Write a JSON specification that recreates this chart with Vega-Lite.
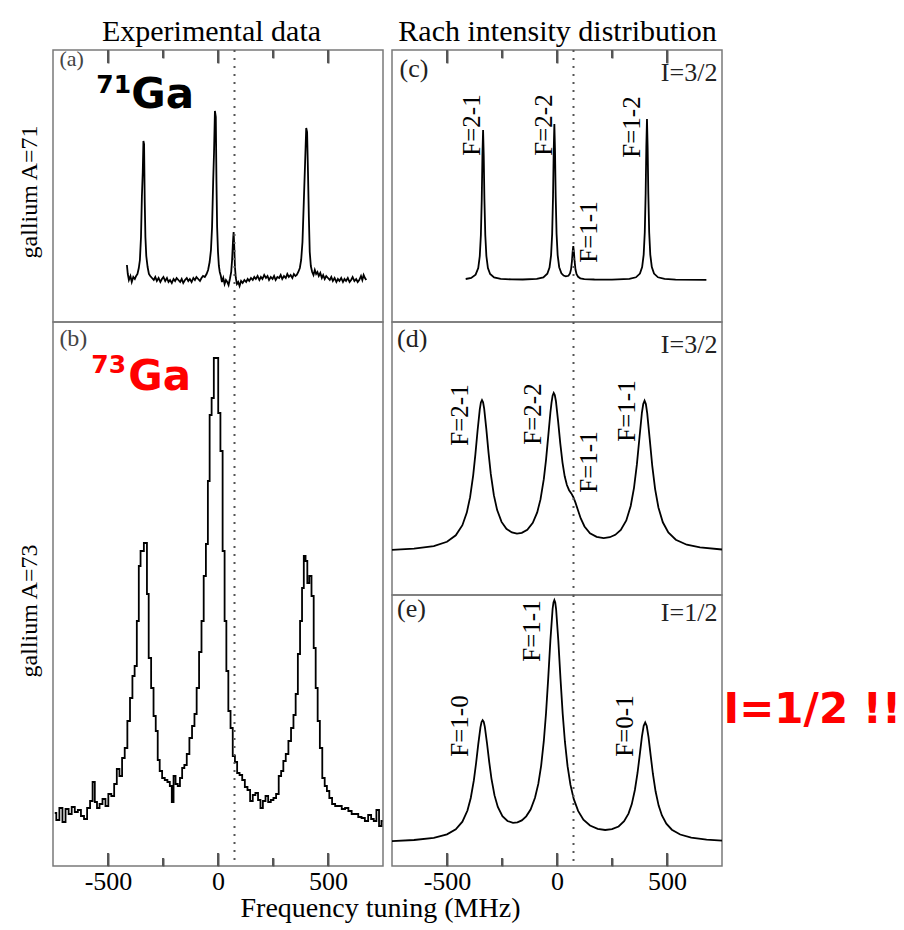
{
  "$schema": "https://vega.github.io/schema/vega-lite/v6.json",
  "background": "white",
  "padding": {"left": 17, "top": 15, "right": 5, "bottom": 5},
  "autosize": {"type": "pad"},
  "config": {
    "view": {"stroke": "#7a7a7a", "strokeWidth": 1.5},
    "axis": {"grid": false, "domain": false, "tickColor": "#555", "tickWidth": 2, "labelFont": "Liberation Serif", "labelFontSize": 26, "labelColor": "black", "titleFont": "Liberation Serif", "titleFontWeight": "normal", "titleColor": "black", "labelOverlap": false, "labelFlush": false, "zindex": 1},
    "text": {"font": "Liberation Serif"}
  },
  "title": {"text": "Frequency tuning (MHz)", "orient": "bottom", "anchor": "middle", "frame": "bounds", "dx": -79, "offset": 0, "font": "Liberation Serif", "fontSize": 28, "fontWeight": "normal", "color": "black"},
  "datasets": {
    "a": [
      {"freq":-414,"intensity":57},{"freq":-410,"intensity":48},{"freq":-405,"intensity":42},{"freq":-398,"intensity":46},{"freq":-392,"intensity":40},{"freq":-385,"intensity":45},{"freq":-378,"intensity":43},{"freq":-372,"intensity":46},{"freq":-366,"intensity":48},{"freq":-360,"intensity":54},{"freq":-355,"intensity":62},{"freq":-350,"intensity":85},{"freq":-346,"intensity":125},{"freq":-342,"intensity":150},{"freq":-339,"intensity":181},{"freq":-336,"intensity":178},{"freq":-333,"intensity":120},{"freq":-330,"intensity":85},{"freq":-326,"intensity":66},{"freq":-320,"intensity":55},{"freq":-314,"intensity":48},{"freq":-308,"intensity":46},{"freq":-300,"intensity":44},{"freq":-292,"intensity":42},{"freq":-285,"intensity":45},{"freq":-278,"intensity":41},{"freq":-270,"intensity":44},{"freq":-262,"intensity":40},{"freq":-255,"intensity":43},{"freq":-248,"intensity":45},{"freq":-240,"intensity":41},{"freq":-232,"intensity":44},{"freq":-225,"intensity":40},{"freq":-218,"intensity":42},{"freq":-210,"intensity":39},{"freq":-202,"intensity":43},{"freq":-195,"intensity":41},{"freq":-188,"intensity":44},{"freq":-180,"intensity":42},{"freq":-172,"intensity":40},{"freq":-165,"intensity":43},{"freq":-158,"intensity":39},{"freq":-150,"intensity":42},{"freq":-142,"intensity":44},{"freq":-135,"intensity":41},{"freq":-128,"intensity":43},{"freq":-120,"intensity":40},{"freq":-112,"intensity":44},{"freq":-105,"intensity":42},{"freq":-98,"intensity":45},{"freq":-90,"intensity":43},{"freq":-82,"intensity":41},{"freq":-75,"intensity":44},{"freq":-68,"intensity":46},{"freq":-60,"intensity":45},{"freq":-52,"intensity":48},{"freq":-45,"intensity":52},{"freq":-38,"intensity":60},{"freq":-32,"intensity":72},{"freq":-27,"intensity":95},{"freq":-22,"intensity":140},{"freq":-18,"intensity":170},{"freq":-14,"intensity":211},{"freq":-10,"intensity":205},{"freq":-7,"intensity":140},{"freq":-4,"intensity":95},{"freq":0,"intensity":70},{"freq":4,"intensity":56},{"freq":8,"intensity":50},{"freq":13,"intensity":46},{"freq":18,"intensity":40},{"freq":24,"intensity":44},{"freq":30,"intensity":38},{"freq":36,"intensity":42},{"freq":42,"intensity":40},{"freq":48,"intensity":37},{"freq":54,"intensity":43},{"freq":60,"intensity":50},{"freq":64,"intensity":62},{"freq":68,"intensity":80},{"freq":71,"intensity":90},{"freq":74,"intensity":75},{"freq":77,"intensity":55},{"freq":81,"intensity":44},{"freq":86,"intensity":38},{"freq":92,"intensity":40},{"freq":98,"intensity":36},{"freq":105,"intensity":41},{"freq":112,"intensity":39},{"freq":120,"intensity":42},{"freq":128,"intensity":40},{"freq":135,"intensity":43},{"freq":142,"intensity":41},{"freq":150,"intensity":44},{"freq":158,"intensity":42},{"freq":165,"intensity":45},{"freq":172,"intensity":43},{"freq":180,"intensity":46},{"freq":188,"intensity":42},{"freq":195,"intensity":45},{"freq":202,"intensity":43},{"freq":210,"intensity":47},{"freq":218,"intensity":44},{"freq":225,"intensity":46},{"freq":232,"intensity":42},{"freq":240,"intensity":45},{"freq":248,"intensity":43},{"freq":255,"intensity":46},{"freq":262,"intensity":42},{"freq":270,"intensity":45},{"freq":278,"intensity":44},{"freq":285,"intensity":47},{"freq":292,"intensity":43},{"freq":300,"intensity":46},{"freq":308,"intensity":44},{"freq":315,"intensity":48},{"freq":322,"intensity":45},{"freq":330,"intensity":47},{"freq":338,"intensity":44},{"freq":345,"intensity":48},{"freq":352,"intensity":46},{"freq":358,"intensity":47},{"freq":365,"intensity":50},{"freq":372,"intensity":54},{"freq":378,"intensity":62},{"freq":384,"intensity":80},{"freq":390,"intensity":120},{"freq":396,"intensity":160},{"freq":401,"intensity":194},{"freq":405,"intensity":190},{"freq":409,"intensity":150},{"freq":413,"intensity":105},{"freq":417,"intensity":70},{"freq":422,"intensity":56},{"freq":428,"intensity":50},{"freq":434,"intensity":47},{"freq":440,"intensity":52},{"freq":446,"intensity":48},{"freq":452,"intensity":50},{"freq":458,"intensity":46},{"freq":465,"intensity":49},{"freq":472,"intensity":44},{"freq":478,"intensity":47},{"freq":485,"intensity":43},{"freq":492,"intensity":46},{"freq":500,"intensity":44},{"freq":508,"intensity":42},{"freq":515,"intensity":45},{"freq":522,"intensity":41},{"freq":530,"intensity":44},{"freq":538,"intensity":40},{"freq":545,"intensity":43},{"freq":552,"intensity":41},{"freq":560,"intensity":44},{"freq":568,"intensity":40},{"freq":575,"intensity":43},{"freq":582,"intensity":41},{"freq":590,"intensity":44},{"freq":598,"intensity":40},{"freq":605,"intensity":42},{"freq":612,"intensity":45},{"freq":620,"intensity":41},{"freq":628,"intensity":43},{"freq":635,"intensity":40},{"freq":642,"intensity":42},{"freq":650,"intensity":46},{"freq":656,"intensity":42},{"freq":662,"intensity":47},{"freq":668,"intensity":44},{"freq":674,"intensity":42}
    ],
    "b": [
      {"freq":-742,"intensity":53},{"freq":-728,"intensity":46},{"freq":-714,"intensity":58},{"freq":-700,"intensity":44},{"freq":-686,"intensity":57},{"freq":-672,"intensity":52},{"freq":-658,"intensity":59},{"freq":-644,"intensity":54},{"freq":-630,"intensity":56},{"freq":-616,"intensity":50},{"freq":-602,"intensity":47},{"freq":-588,"intensity":58},{"freq":-575,"intensity":65},{"freq":-565,"intensity":84},{"freq":-555,"intensity":64},{"freq":-545,"intensity":58},{"freq":-532,"intensity":62},{"freq":-518,"intensity":67},{"freq":-505,"intensity":60},{"freq":-492,"intensity":72},{"freq":-478,"intensity":70},{"freq":-466,"intensity":82},{"freq":-454,"intensity":97},{"freq":-442,"intensity":90},{"freq":-430,"intensity":108},{"freq":-418,"intensity":118},{"freq":-406,"intensity":145},{"freq":-394,"intensity":168},{"freq":-384,"intensity":190},{"freq":-374,"intensity":200},{"freq":-364,"intensity":245},{"freq":-356,"intensity":300},{"freq":-348,"intensity":315},{"freq":-340,"intensity":315},{"freq":-334,"intensity":323},{"freq":-326,"intensity":323},{"freq":-320,"intensity":272},{"freq":-310,"intensity":208},{"freq":-298,"intensity":178},{"freq":-288,"intensity":150},{"freq":-278,"intensity":135},{"freq":-270,"intensity":106},{"freq":-260,"intensity":95},{"freq":-248,"intensity":88},{"freq":-236,"intensity":86},{"freq":-224,"intensity":84},{"freq":-214,"intensity":80},{"freq":-206,"intensity":64},{"freq":-198,"intensity":90},{"freq":-188,"intensity":82},{"freq":-178,"intensity":80},{"freq":-168,"intensity":88},{"freq":-158,"intensity":98},{"freq":-148,"intensity":101},{"freq":-136,"intensity":112},{"freq":-124,"intensity":128},{"freq":-112,"intensity":140},{"freq":-102,"intensity":152},{"freq":-92,"intensity":178},{"freq":-80,"intensity":214},{"freq":-70,"intensity":245},{"freq":-60,"intensity":290},{"freq":-50,"intensity":322},{"freq":-42,"intensity":385},{"freq":-34,"intensity":451},{"freq":-24,"intensity":468},{"freq":-14,"intensity":508},{"freq":-4,"intensity":508},{"freq":6,"intensity":453},{"freq":16,"intensity":415},{"freq":26,"intensity":315},{"freq":34,"intensity":245},{"freq":42,"intensity":195},{"freq":52,"intensity":155},{"freq":62,"intensity":138},{"freq":72,"intensity":110},{"freq":82,"intensity":104},{"freq":92,"intensity":93},{"freq":104,"intensity":91},{"freq":116,"intensity":86},{"freq":128,"intensity":79},{"freq":140,"intensity":76},{"freq":152,"intensity":65},{"freq":164,"intensity":71},{"freq":176,"intensity":73},{"freq":188,"intensity":66},{"freq":198,"intensity":58},{"freq":210,"intensity":65},{"freq":222,"intensity":70},{"freq":234,"intensity":64},{"freq":246,"intensity":66},{"freq":258,"intensity":68},{"freq":270,"intensity":72},{"freq":282,"intensity":90},{"freq":292,"intensity":95},{"freq":302,"intensity":105},{"freq":314,"intensity":112},{"freq":326,"intensity":125},{"freq":338,"intensity":138},{"freq":348,"intensity":151},{"freq":358,"intensity":172},{"freq":368,"intensity":212},{"freq":378,"intensity":245},{"freq":386,"intensity":278},{"freq":394,"intensity":310},{"freq":402,"intensity":305},{"freq":410,"intensity":283},{"freq":420,"intensity":290},{"freq":430,"intensity":270},{"freq":440,"intensity":218},{"freq":448,"intensity":178},{"freq":458,"intensity":145},{"freq":468,"intensity":118},{"freq":480,"intensity":88},{"freq":490,"intensity":80},{"freq":500,"intensity":75},{"freq":512,"intensity":68},{"freq":525,"intensity":62},{"freq":540,"intensity":60},{"freq":555,"intensity":60},{"freq":570,"intensity":57},{"freq":585,"intensity":58},{"freq":600,"intensity":55},{"freq":615,"intensity":52},{"freq":630,"intensity":52},{"freq":645,"intensity":49},{"freq":660,"intensity":48},{"freq":675,"intensity":45},{"freq":690,"intensity":51},{"freq":702,"intensity":47},{"freq":714,"intensity":45},{"freq":726,"intensity":56},{"freq":738,"intensity":40},{"freq":748,"intensity":45}
    ],
    "c": [
      {"freq":-415,"intensity":43.0},{"freq":-390,"intensity":44.1},{"freq":-370,"intensity":47.3},{"freq":-358,"intensity":54},{"freq":-351,"intensity":66},{"freq":-346,"intensity":87},{"freq":-342,"intensity":123},{"freq":-339,"intensity":166},{"freq":-336,"intensity":192},{"freq":-333,"intensity":166},{"freq":-330,"intensity":123},{"freq":-326,"intensity":87},{"freq":-321,"intensity":66},{"freq":-314,"intensity":54},{"freq":-304,"intensity":48},{"freq":-286,"intensity":44.5},{"freq":-256,"intensity":43.1},{"freq":-206,"intensity":42.6},{"freq":-156,"intensity":42.5},{"freq":-92,"intensity":43.1},{"freq":-62,"intensity":44.6},{"freq":-44,"intensity":48.3},{"freq":-34,"intensity":54.5},{"freq":-27,"intensity":66.7},{"freq":-22,"intensity":88},{"freq":-18,"intensity":126},{"freq":-15,"intensity":170.5},{"freq":-12,"intensity":198},{"freq":-9,"intensity":170.7},{"freq":-6,"intensity":126},{"freq":-2,"intensity":88.3},{"freq":3,"intensity":66.9},{"freq":10,"intensity":54.8},{"freq":20,"intensity":48.7},{"freq":30,"intensity":46.4},{"freq":40,"intensity":45.6},{"freq":52,"intensity":46.2},{"freq":59,"intensity":48.5},{"freq":64,"intensity":52.9},{"freq":68,"intensity":61},{"freq":71,"intensity":70},{"freq":74,"intensity":75.9},{"freq":77,"intensity":69.8},{"freq":80,"intensity":60.8},{"freq":84,"intensity":52.5},{"freq":89,"intensity":47.8},{"freq":96,"intensity":45.2},{"freq":106,"intensity":43.7},{"freq":124,"intensity":42.9},{"freq":170,"intensity":42.5},{"freq":250,"intensity":42.4},{"freq":329,"intensity":43.1},{"freq":359,"intensity":44.7},{"freq":377,"intensity":48.4},{"freq":387,"intensity":54.9},{"freq":394,"intensity":67.4},{"freq":399,"intensity":89.8},{"freq":403,"intensity":129},{"freq":406,"intensity":174.7},{"freq":409,"intensity":203},{"freq":412,"intensity":174.7},{"freq":415,"intensity":129},{"freq":419,"intensity":89.8},{"freq":424,"intensity":67.4},{"freq":431,"intensity":54.9},{"freq":441,"intensity":48.4},{"freq":459,"intensity":44.7},{"freq":489,"intensity":43.1},{"freq":539,"intensity":42.4},{"freq":679,"intensity":42.1}
    ],
    "d": [
      {"freq":-750,"intensity":45.1},{"freq":-650,"intensity":46.4},{"freq":-560,"intensity":48.9},{"freq":-500,"intensity":53.2},{"freq":-460,"intensity":59.7},{"freq":-430,"intensity":69.8},{"freq":-410,"intensity":82.4},{"freq":-395,"intensity":97.8},{"freq":-381,"intensity":119.7},{"freq":-371,"intensity":140.6},{"freq":-361,"intensity":164.5},{"freq":-351,"intensity":185.6},{"freq":-346,"intensity":192.6},{"freq":-341,"intensity":195},{"freq":-336,"intensity":192.7},{"freq":-331,"intensity":186.3},{"freq":-321,"intensity":165.4},{"freq":-311,"intensity":141.8},{"freq":-301,"intensity":121.1},{"freq":-287,"intensity":99.8},{"freq":-272,"intensity":84.9},{"freq":-252,"intensity":73.1},{"freq":-230,"intensity":66.2},{"freq":-205,"intensity":62.5},{"freq":-182,"intensity":61.4},{"freq":-160,"intensity":62.1},{"freq":-135,"intensity":65.3},{"freq":-110,"intensity":72.1},{"freq":-90,"intensity":82.6},{"freq":-75,"intensity":95.6},{"freq":-60,"intensity":115.8},{"freq":-50,"intensity":134.9},{"freq":-40,"intensity":158.3},{"freq":-30,"intensity":182.5},{"freq":-25,"intensity":192.2},{"freq":-20,"intensity":199.3},{"freq":-15,"intensity":202},{"freq":-10,"intensity":199.9},{"freq":-5,"intensity":194},{"freq":5,"intensity":173.8},{"freq":15,"intensity":151.3},{"freq":25,"intensity":132.4},{"freq":35,"intensity":118.7},{"freq":45,"intensity":110},{"freq":55,"intensity":104.8},{"freq":65,"intensity":101.6},{"freq":74,"intensity":98},{"freq":84,"intensity":92.4},{"freq":95,"intensity":85},{"freq":108,"intensity":76.5},{"freq":125,"intensity":68.5},{"freq":150,"intensity":61.8},{"freq":180,"intensity":58.1},{"freq":212,"intensity":56.9},{"freq":240,"intensity":57.8},{"freq":265,"intensity":60.2},{"freq":290,"intensity":65.1},{"freq":315,"intensity":74.6},{"freq":335,"intensity":89},{"freq":350,"intensity":107.2},{"freq":363,"intensity":130.3},{"freq":374,"intensity":155.5},{"freq":386,"intensity":182.5},{"freq":392,"intensity":191},{"freq":398,"intensity":194.3},{"freq":404,"intensity":190.9},{"freq":410,"intensity":181.8},{"freq":422,"intensity":154.6},{"freq":433,"intensity":129.2},{"freq":446,"intensity":105.9},{"freq":461,"intensity":87.5},{"freq":481,"intensity":72.7},{"freq":506,"intensity":62.5},{"freq":540,"intensity":55.3},{"freq":590,"intensity":50.3},{"freq":650,"intensity":47.6},{"freq":750,"intensity":45.5}
    ],
    "e": [
      {"freq":-750,"intensity":24.9},{"freq":-650,"intensity":26},{"freq":-560,"intensity":28.2},{"freq":-500,"intensity":31.6},{"freq":-460,"intensity":36.6},{"freq":-430,"intensity":44.3},{"freq":-407,"intensity":55.5},{"freq":-392,"intensity":68},{"freq":-378,"intensity":85.6},{"freq":-368,"intensity":102.5},{"freq":-358,"intensity":121.7},{"freq":-348,"intensity":138.7},{"freq":-343,"intensity":144},{"freq":-338,"intensity":145.9},{"freq":-333,"intensity":144.2},{"freq":-328,"intensity":139.1},{"freq":-318,"intensity":122.5},{"freq":-308,"intensity":103.8},{"freq":-298,"intensity":87.4},{"freq":-284,"intensity":70.6},{"freq":-269,"intensity":59},{"freq":-248,"intensity":49.8},{"freq":-225,"intensity":45},{"freq":-200,"intensity":43.1},{"freq":-180,"intensity":43.6},{"freq":-160,"intensity":45.6},{"freq":-140,"intensity":49.7},{"freq":-120,"intensity":56.5},{"freq":-100,"intensity":68.2},{"freq":-85,"intensity":82.1},{"freq":-72,"intensity":100.4},{"freq":-60,"intensity":124.8},{"freq":-50,"intensity":152.5},{"freq":-40,"intensity":187.4},{"freq":-30,"intensity":225.9},{"freq":-20,"intensity":257},{"freq":-16,"intensity":263.5},{"freq":-12,"intensity":265.9},{"freq":-8,"intensity":263.5},{"freq":-4,"intensity":256.7},{"freq":6,"intensity":225.4},{"freq":16,"intensity":186.9},{"freq":26,"intensity":151.9},{"freq":36,"intensity":124.3},{"freq":48,"intensity":99.8},{"freq":61,"intensity":81.3},{"freq":76,"intensity":67.1},{"freq":96,"intensity":55.1},{"freq":120,"intensity":46.4},{"freq":150,"intensity":40.5},{"freq":185,"intensity":37.1},{"freq":219,"intensity":36},{"freq":250,"intensity":36.8},{"freq":280,"intensity":39.5},{"freq":305,"intensity":44.8},{"freq":325,"intensity":52.4},{"freq":340,"intensity":61.9},{"freq":354,"intensity":76},{"freq":366,"intensity":93},{"freq":376,"intensity":110.9},{"freq":386,"intensity":129.3},{"freq":394,"intensity":140.2},{"freq":401,"intensity":143.6},{"freq":408,"intensity":140},{"freq":416,"intensity":128.9},{"freq":426,"intensity":110.1},{"freq":436,"intensity":92},{"freq":448,"intensity":74.7},{"freq":462,"intensity":60.4},{"freq":477,"intensity":50.5},{"freq":497,"intensity":42.3},{"freq":522,"intensity":36.3},{"freq":560,"intensity":31.5},{"freq":610,"intensity":28.4},{"freq":680,"intensity":26.4},{"freq":750,"intensity":25.4}
    ],
    "lc": [
      {"freq":-387,"intensity":197,"label":"F=2-1"},{"freq":-57,"intensity":197,"label":"F=2-2"},{"freq":147,"intensity":90,"label":"F=1-1"},{"freq":341,"intensity":195,"label":"F=1-2"}
    ],
    "ld": [
      {"freq":-440,"intensity":180,"label":"F=2-1"},{"freq":-110,"intensity":181,"label":"F=2-2"},{"freq":147,"intensity":133,"label":"F=1-1"},{"freq":318,"intensity":184,"label":"F=1-1"}
    ],
    "le": [
      {"freq":-440,"intensity":140,"label":"F=1-0"},{"freq":-114,"intensity":235,"label":"F=1-1"},{"freq":310,"intensity":140,"label":"F=0-1"}
    ],
    "major": [{"tick": -500}, {"tick": 0}, {"tick": 500}],
    "minor": [{"tick": -250}, {"tick": 250}]
  },
  "spacing": 0,
  "hconcat": [
    {
      "spacing": 0,
      "bounds": "flush",
      "vconcat": [
        {
          "width": 330, "height": 272,
          "resolve": {"axis": {"x": "independent"}},
          "layer": [
            {
              "data": {"name": "a"},
              "mark": {"type": "line", "color": "black", "strokeWidth": 1.8},
              "encoding": {
                "x": {"field": "freq", "type": "quantitative", "scale": {"domain": [-750, 750], "nice": false, "zero": false},
                  "axis": {"orient": "top", "values": [-500, 0, 500], "labels": false, "offset": -13, "tickSize": 13, "title": "Experimental data", "titleFontSize": 30, "titlePadding": 3, "titleX": 158, "titleAlign": "center"}},
                "y": {"field": "intensity", "type": "quantitative", "scale": {"domain": [0, 272], "nice": false, "zero": false}, "axis": null}
              }
            },
            {
              "data": {"values": [{}]},
              "mark": {"type": "rule", "color": "#555", "strokeWidth": 2, "strokeDash": [2, 6]},
              "encoding": {"x": {"datum": 75, "type": "quantitative", "axis": {"orient": "top", "values": [-250, 250], "labels": false, "offset": -8, "tickSize": 8, "title": null}}}
            },
            {
              "data": {"name": "major"},
              "mark": {"type": "rule", "color": "#555", "strokeWidth": 2},
              "encoding": {"x": {"field": "tick", "type": "quantitative", "axis": null}, "y": {"datum": 272, "type": "quantitative", "axis": null}, "y2": {"datum": 259}}
            },
            {
              "data": {"name": "minor"},
              "mark": {"type": "rule", "color": "#555", "strokeWidth": 2},
              "encoding": {"x": {"field": "tick", "type": "quantitative", "axis": null}, "y": {"datum": 272, "type": "quantitative", "axis": null}, "y2": {"datum": 264}}
            },
            {
              "data": {"values": [{}]},
              "mark": {"type": "text", "font": "Liberation Serif", "fontSize": 24, "angle": 270, "align": "center", "baseline": "middle", "color": "black"},
              "encoding": {"x": {"datum": -855, "type": "quantitative", "axis": null}, "y": {"datum": 130, "type": "quantitative", "axis": null}, "text": {"value": "gallium A=71"}}
            },
            {
              "data": {"values": [{}]},
              "mark": {"type": "text", "font": "Liberation Serif", "fontSize": 22, "align": "left", "baseline": "alphabetic", "color": "#444"},
              "encoding": {"x": {"datum": -721, "type": "quantitative", "axis": null}, "y": {"datum": 256, "type": "quantitative", "axis": null}, "text": {"value": "(a)"}}
            },
            {
              "data": {"values": [{}]},
              "mark": {"type": "text", "font": "DejaVu Sans", "fontWeight": "bold", "fontSize": 25, "align": "left", "baseline": "alphabetic", "color": "black"},
              "encoding": {"x": {"datum": -553, "type": "quantitative", "axis": null}, "y": {"datum": 229, "type": "quantitative", "axis": null}, "text": {"value": "71"}}
            },
            {
              "data": {"values": [{}]},
              "mark": {"type": "text", "font": "DejaVu Sans", "fontWeight": "bold", "fontSize": 42, "align": "left", "baseline": "alphabetic", "color": "black"},
              "encoding": {"x": {"datum": -394, "type": "quantitative", "axis": null}, "y": {"datum": 214, "type": "quantitative", "axis": null}, "text": {"value": "Ga"}}
            }
          ]
        },
        {
          "width": 330, "height": 544,
          "resolve": {"axis": {"x": "independent"}},
          "layer": [
            {
              "data": {"name": "b"},
              "mark": {"type": "line", "color": "black", "strokeWidth": 1.8, "interpolate": "step"},
              "encoding": {
                "x": {"field": "freq", "type": "quantitative", "scale": {"domain": [-750, 750], "nice": false, "zero": false},
                  "axis": {"orient": "bottom", "values": [-500, 0, 500], "offset": -13, "tickSize": 13, "labelExpr": "'' + datum.value", "labelPadding": 2, "title": null}},
                "y": {"field": "intensity", "type": "quantitative", "scale": {"domain": [0, 544], "nice": false, "zero": false}, "axis": null}
              }
            },
            {
              "data": {"values": [{}]},
              "mark": {"type": "rule", "color": "#555", "strokeWidth": 2, "strokeDash": [2, 6]},
              "encoding": {"x": {"datum": 75, "type": "quantitative", "axis": {"orient": "bottom", "values": [-250, 250], "labels": false, "offset": -8, "tickSize": 8, "title": null}}}
            },
            {
              "data": {"name": "major"},
              "mark": {"type": "rule", "color": "#555", "strokeWidth": 2},
              "encoding": {"x": {"field": "tick", "type": "quantitative", "axis": null}, "y": {"datum": 0, "type": "quantitative", "axis": null}, "y2": {"datum": 13}}
            },
            {
              "data": {"name": "minor"},
              "mark": {"type": "rule", "color": "#555", "strokeWidth": 2},
              "encoding": {"x": {"field": "tick", "type": "quantitative", "axis": null}, "y": {"datum": 0, "type": "quantitative", "axis": null}, "y2": {"datum": 8}}
            },
            {
              "data": {"values": [{}]},
              "mark": {"type": "text", "font": "Liberation Serif", "fontSize": 24, "angle": 270, "align": "center", "baseline": "middle", "color": "black"},
              "encoding": {"x": {"datum": -855, "type": "quantitative", "axis": null}, "y": {"datum": 255, "type": "quantitative", "axis": null}, "text": {"value": "gallium A=73"}}
            },
            {
              "data": {"values": [{}]},
              "mark": {"type": "text", "font": "Liberation Serif", "fontSize": 24, "align": "left", "baseline": "alphabetic", "color": "#444"},
              "encoding": {"x": {"datum": -721, "type": "quantitative", "axis": null}, "y": {"datum": 520, "type": "quantitative", "axis": null}, "text": {"value": "(b)"}}
            },
            {
              "data": {"values": [{}]},
              "mark": {"type": "text", "font": "DejaVu Sans", "fontWeight": "bold", "fontSize": 25, "align": "left", "baseline": "alphabetic", "color": "#ff0000"},
              "encoding": {"x": {"datum": -576, "type": "quantitative", "axis": null}, "y": {"datum": 493, "type": "quantitative", "axis": null}, "text": {"value": "73"}}
            },
            {
              "data": {"values": [{}]},
              "mark": {"type": "text", "font": "DejaVu Sans", "fontWeight": "bold", "fontSize": 42, "align": "left", "baseline": "alphabetic", "color": "#ff0000"},
              "encoding": {"x": {"datum": -408, "type": "quantitative", "axis": null}, "y": {"datum": 476, "type": "quantitative", "axis": null}, "text": {"value": "Ga"}}
            }
          ]
        }
      ]
    },
    {
      "spacing": 0,
      "bounds": "flush",
      "vconcat": [
        {
          "width": 330, "height": 272,
          "resolve": {"axis": {"x": "independent"}},
          "layer": [
            {
              "data": {"name": "c"},
              "mark": {"type": "line", "color": "black", "strokeWidth": 1.8},
              "encoding": {
                "x": {"field": "freq", "type": "quantitative", "scale": {"domain": [-750, 750], "nice": false, "zero": false},
                  "axis": {"orient": "top", "values": [-500, 0, 500], "labels": false, "offset": -13, "tickSize": 13, "title": "Rach intensity distribution", "titleFontSize": 30, "titlePadding": 3}},
                "y": {"field": "intensity", "type": "quantitative", "scale": {"domain": [0, 272], "nice": false, "zero": false}, "axis": null}
              }
            },
            {
              "data": {"values": [{}]},
              "mark": {"type": "rule", "color": "#555", "strokeWidth": 2, "strokeDash": [2, 6]},
              "encoding": {"x": {"datum": 75, "type": "quantitative", "axis": {"orient": "top", "values": [-250, 250], "labels": false, "offset": -8, "tickSize": 8, "title": null}}}
            },
            {
              "data": {"name": "major"},
              "mark": {"type": "rule", "color": "#555", "strokeWidth": 2},
              "encoding": {"x": {"field": "tick", "type": "quantitative", "axis": null}, "y": {"datum": 272, "type": "quantitative", "axis": null}, "y2": {"datum": 259}}
            },
            {
              "data": {"name": "minor"},
              "mark": {"type": "rule", "color": "#555", "strokeWidth": 2},
              "encoding": {"x": {"field": "tick", "type": "quantitative", "axis": null}, "y": {"datum": 272, "type": "quantitative", "axis": null}, "y2": {"datum": 264}}
            },
            {
              "data": {"name": "lc"},
              "mark": {"type": "text", "angle": 270, "align": "center", "baseline": "middle", "font": "Liberation Serif", "fontSize": 25, "color": "black"},
              "encoding": {"x": {"field": "freq", "type": "quantitative", "axis": null}, "y": {"field": "intensity", "type": "quantitative", "axis": null}, "text": {"field": "label"}}
            },
            {
              "data": {"values": [{}]},
              "mark": {"type": "text", "font": "Liberation Serif", "fontSize": 26, "align": "left", "baseline": "alphabetic", "color": "#222"},
              "encoding": {"x": {"datum": -716, "type": "quantitative", "axis": null}, "y": {"datum": 245, "type": "quantitative", "axis": null}, "text": {"value": "(c)"}}
            },
            {
              "data": {"values": [{}]},
              "mark": {"type": "text", "font": "Liberation Serif", "fontSize": 26, "align": "right", "baseline": "alphabetic", "color": "#222"},
              "encoding": {"x": {"datum": 729, "type": "quantitative", "axis": null}, "y": {"datum": 241, "type": "quantitative", "axis": null}, "text": {"value": "I=3/2"}}
            }
          ]
        },
        {
          "width": 330, "height": 273,
          "layer": [
            {
              "data": {"name": "d"},
              "mark": {"type": "line", "color": "black", "strokeWidth": 1.8},
              "encoding": {
                "x": {"field": "freq", "type": "quantitative", "scale": {"domain": [-750, 750], "nice": false, "zero": false}, "axis": null},
                "y": {"field": "intensity", "type": "quantitative", "scale": {"domain": [0, 273], "nice": false, "zero": false}, "axis": null}
              }
            },
            {
              "data": {"values": [{}]},
              "mark": {"type": "rule", "color": "#555", "strokeWidth": 2, "strokeDash": [2, 6]},
              "encoding": {"x": {"datum": 75, "type": "quantitative", "axis": null}}
            },
            {
              "data": {"name": "ld"},
              "mark": {"type": "text", "angle": 270, "align": "center", "baseline": "middle", "font": "Liberation Serif", "fontSize": 25, "color": "black"},
              "encoding": {"x": {"field": "freq", "type": "quantitative", "axis": null}, "y": {"field": "intensity", "type": "quantitative", "axis": null}, "text": {"field": "label"}}
            },
            {
              "data": {"values": [{}]},
              "mark": {"type": "text", "font": "Liberation Serif", "fontSize": 26, "align": "left", "baseline": "alphabetic", "color": "#222"},
              "encoding": {"x": {"datum": -727, "type": "quantitative", "axis": null}, "y": {"datum": 248, "type": "quantitative", "axis": null}, "text": {"value": "(d)"}}
            },
            {
              "data": {"values": [{}]},
              "mark": {"type": "text", "font": "Liberation Serif", "fontSize": 26, "align": "right", "baseline": "alphabetic", "color": "#222"},
              "encoding": {"x": {"datum": 729, "type": "quantitative", "axis": null}, "y": {"datum": 242, "type": "quantitative", "axis": null}, "text": {"value": "I=3/2"}}
            }
          ]
        },
        {
          "width": 330, "height": 271,
          "resolve": {"axis": {"x": "independent"}},
          "layer": [
            {
              "data": {"name": "e"},
              "mark": {"type": "line", "color": "black", "strokeWidth": 1.8},
              "encoding": {
                "x": {"field": "freq", "type": "quantitative", "scale": {"domain": [-750, 750], "nice": false, "zero": false},
                  "axis": {"orient": "bottom", "values": [-500, 0, 500], "offset": -13, "tickSize": 13, "labelExpr": "'' + datum.value", "labelPadding": 2, "title": null}},
                "y": {"field": "intensity", "type": "quantitative", "scale": {"domain": [0, 271], "nice": false, "zero": false}, "axis": null}
              }
            },
            {
              "data": {"values": [{}]},
              "mark": {"type": "rule", "color": "#555", "strokeWidth": 2, "strokeDash": [2, 6]},
              "encoding": {"x": {"datum": 75, "type": "quantitative", "axis": {"orient": "bottom", "values": [-250, 250], "labels": false, "offset": -8, "tickSize": 8, "title": null}}}
            },
            {
              "data": {"name": "major"},
              "mark": {"type": "rule", "color": "#555", "strokeWidth": 2},
              "encoding": {"x": {"field": "tick", "type": "quantitative", "axis": null}, "y": {"datum": 0, "type": "quantitative", "axis": null}, "y2": {"datum": 13}}
            },
            {
              "data": {"name": "minor"},
              "mark": {"type": "rule", "color": "#555", "strokeWidth": 2},
              "encoding": {"x": {"field": "tick", "type": "quantitative", "axis": null}, "y": {"datum": 0, "type": "quantitative", "axis": null}, "y2": {"datum": 8}}
            },
            {
              "data": {"name": "le"},
              "mark": {"type": "text", "angle": 270, "align": "center", "baseline": "middle", "font": "Liberation Serif", "fontSize": 25, "color": "black"},
              "encoding": {"x": {"field": "freq", "type": "quantitative", "axis": null}, "y": {"field": "intensity", "type": "quantitative", "axis": null}, "text": {"field": "label"}}
            },
            {
              "data": {"values": [{}]},
              "mark": {"type": "text", "font": "Liberation Serif", "fontSize": 26, "align": "left", "baseline": "alphabetic", "color": "#222"},
              "encoding": {"x": {"datum": -727, "type": "quantitative", "axis": null}, "y": {"datum": 249, "type": "quantitative", "axis": null}, "text": {"value": "(e)"}}
            },
            {
              "data": {"values": [{}]},
              "mark": {"type": "text", "font": "Liberation Serif", "fontSize": 26, "align": "right", "baseline": "alphabetic", "color": "#222"},
              "encoding": {"x": {"datum": 729, "type": "quantitative", "axis": null}, "y": {"datum": 245, "type": "quantitative", "axis": null}, "text": {"value": "I=1/2"}}
            },
            {
              "data": {"values": [{}]},
              "mark": {"type": "text", "font": "DejaVu Sans", "fontWeight": "bold", "fontSize": 42, "align": "left", "baseline": "alphabetic", "color": "#ff0000"},
              "encoding": {"x": {"datum": 757, "type": "quantitative", "axis": null}, "y": {"datum": 143, "type": "quantitative", "axis": null}, "text": {"value": "I=1/2 !!"}}
            }
          ]
        }
      ]
    }
  ]
}
